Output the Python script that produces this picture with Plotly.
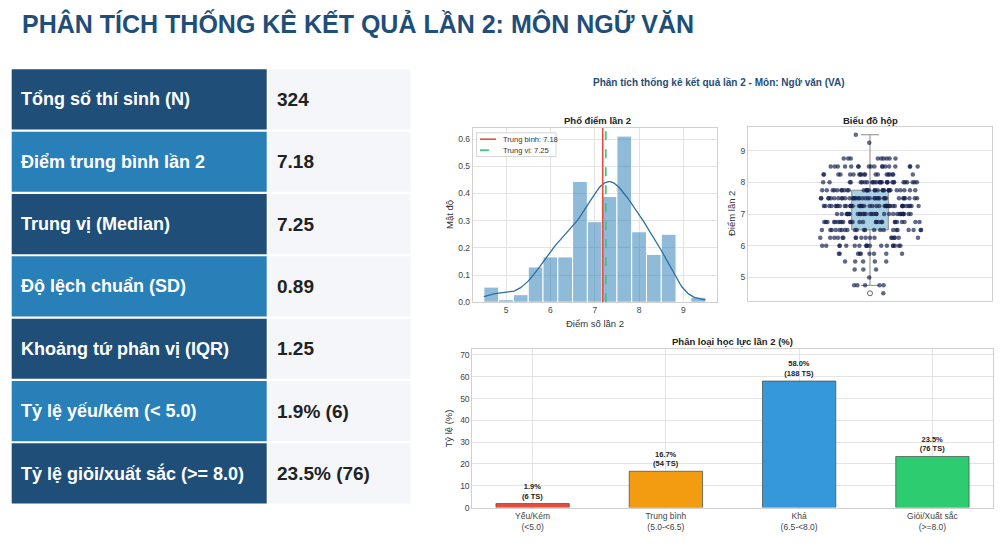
import numpy as np
import plotly.graph_objects as go

# bang thong ke ben trai
stat_labels = ["Tổng số thí sinh (N)", "Điểm trung bình lần 2", "Trung vị (Median)",
               "Độ lệch chuẩn (SD)", "Khoảng tứ phân vị (IQR)", "Tỷ lệ yếu/kém (< 5.0)",
               "Tỷ lệ giỏi/xuất sắc (>= 8.0)"]
stat_values = ["324", "7.18", "7.25", "0.89", "1.25", "1.9% (6)", "23.5% (76)"]

# diem lan 2: muc diem va so thi sinh (doc tu pho diem + bieu do hop)
score_values = [4.5, 4.75, 5.0, 5.25, 5.5, 5.75, 6.0, 6.25, 6.5, 6.75,
                7.0, 7.25, 7.5, 7.75, 8.0, 8.25, 8.5, 8.75, 9.25, 9.5]
score_counts = [1, 5, 1, 3, 5, 9, 18, 18, 22, 26,
                32, 42, 36, 30, 28, 19, 18, 9, 1, 1]

mean_score = 7.18
median_score = 7.25

# phan loai hoc luc
grade_labels = ["Yếu/Kém<br>(<5.0)", "Trung bình<br>(5.0-<6.5)",
                "Khá<br>(6.5-<8.0)", "Giỏi/Xuất sắc<br>(>=8.0)"]
grade_counts = [6, 54, 188, 76]
grade_colors = ["#e74c3c", "#f39c12", "#3498db", "#2ecc71"]

W, H = 1000, 547
FONT = "Liberation Sans, Arial, sans-serif"


def px(x):
    return x / W


def py(y):
    return 1 - y / H


scores = np.repeat(score_values, score_counts)
n = len(scores)

# histogram (density) + kde nhu seaborn
dens, edges = np.histogram(scores, bins=15, range=(4.5, 9.5), density=True)
centers = (edges[:-1] + edges[1:]) / 2
bw = n ** (-1 / 5) * scores.std(ddof=1)
grid = np.linspace(scores.min(), scores.max(), 200)
kde = np.exp(-0.5 * ((grid[:, None] - scores[None, :]) / bw) ** 2).sum(axis=1)
kde = kde / (n * bw * np.sqrt(2 * np.pi))
ytop = max(dens.max(), kde.max()) * 1.05

fig = go.Figure()

fig.add_trace(go.Bar(
    x=centers, y=dens, width=edges[1] - edges[0],
    marker=dict(color="rgba(31,119,180,0.5)", line=dict(color="white", width=1)),
    xaxis="x", yaxis="y", hoverinfo="skip"))
fig.add_trace(go.Scatter(
    x=grid, y=kde, mode="lines", line=dict(color="#2a6f9f", width=1.3),
    xaxis="x", yaxis="y"))
fig.add_trace(go.Scatter(
    x=[mean_score, mean_score], y=[0, ytop], mode="lines",
    line=dict(color="#e74c3c", width=1.6),
    name=f"Trung bình: {mean_score:.2f}", xaxis="x", yaxis="y"))
fig.add_trace(go.Scatter(
    x=[median_score, median_score], y=[0, ytop], mode="lines",
    line=dict(color="#2ecc71", width=1.6, dash="dash"),
    name=f"Trung vị: {median_score:.2f}", xaxis="x", yaxis="y"))

# bieu do hop + diem
fig.add_trace(go.Box(
    y=scores, x0=0, width=0.15, boxpoints="outliers", whiskerwidth=0.5,
    fillcolor="#a8d1e5", line=dict(color="#8a8a8a", width=1),
    marker=dict(color="white", size=5, line=dict(color="#666666", width=1)),
    xaxis="x2", yaxis="y2"))
fig.add_trace(go.Box(
    y=scores, x0=0, width=0.42, boxpoints="all", jitter=1, pointpos=0,
    fillcolor="rgba(0,0,0,0)", line=dict(color="rgba(0,0,0,0)", width=0),
    marker=dict(color="rgba(22,32,78,0.68)", size=4.5),
    xaxis="x2", yaxis="y2"))

# phan loai hoc luc
grade_pct = [c / n * 100 for c in grade_counts]
fig.add_trace(go.Bar(
    x=list(range(len(grade_counts))), y=grade_pct, width=0.55,
    marker=dict(color=grade_colors, line=dict(color="rgba(70,70,70,0.7)", width=1)),
    text=[f"<b>{p:.1f}%<br>({c} TS)</b>" for p, c in zip(grade_pct, grade_counts)],
    textposition="outside", constraintext="none", cliponaxis=False,
    textfont=dict(size=7.5, color="#222222", family=FONT),
    xaxis="x3", yaxis="y3"))

axis_style = dict(showgrid=True, gridcolor="#e3e3e3", gridwidth=1, showline=True,
                  linecolor="#d0d0d0", mirror=True, ticks="", zeroline=False,
                  tickfont=dict(size=8.5, color="#444444", family=FONT))

fig.update_layout(
    width=W, height=H, margin=dict(l=0, r=0, t=0, b=0),
    paper_bgcolor="white", plot_bgcolor="white", showlegend=False,
    font=dict(family=FONT), barmode="overlay", boxmode="overlay",
    xaxis=dict(axis_style, domain=[px(472.8), px(716.7)], range=[4.25, 9.75],
               tickvals=[5, 6, 7, 8, 9], anchor="y"),
    yaxis=dict(axis_style, domain=[py(305), py(129)], range=[0, ytop],
               dtick=0.1, tickformat=".1f", anchor="x"),
    xaxis2=dict(axis_style, domain=[px(748), px(992)], range=[-0.5, 0.5],
                showticklabels=False, showgrid=False, anchor="y2"),
    yaxis2=dict(axis_style, domain=[py(304), py(128)], range=[4.25, 9.75],
                tickvals=[5, 6, 7, 8, 9], anchor="x2"),
    xaxis3=dict(axis_style, domain=[px(472.3), px(992.7)], range=[-0.4525, 3.4525],
                tickvals=list(range(len(grade_labels))), ticktext=grade_labels,
                anchor="y3"),
    yaxis3=dict(axis_style, domain=[py(512.3), py(352.7)], range=[0, 72.5],
                dtick=10, anchor="x3"),
)

shapes = []
annotations = []

# tieu de chinh
annotations.append(dict(
    x=px(20), y=py(24), xref="paper", yref="paper", xanchor="left", yanchor="middle",
    text="<b>PHÂN TÍCH THỐNG KÊ KẾT QUẢ LẦN 2: MÔN NGỮ VĂN</b>", showarrow=False,
    font=dict(size=25, color="#1f4e79", family=FONT)))

# bang
row_top, row_pitch, row_h = 70, 62.9, 60.7
for i, (lab, val) in enumerate(zip(stat_labels, stat_values)):
    y0 = row_top + i * row_pitch
    y1 = y0 + row_h
    shapes.append(dict(type="rect", xref="paper", yref="paper",
                       x0=px(11.7), x1=px(266.7), y0=py(y1), y1=py(y0),
                       fillcolor="#1f4e79" if i % 2 == 0 else "#2980b9",
                       line=dict(width=0), layer="below"))
    shapes.append(dict(type="rect", xref="paper", yref="paper",
                       x0=px(268.5), x1=px(410.7), y0=py(y1), y1=py(y0),
                       fillcolor="#f4f6f9", line=dict(width=0), layer="below"))
    yc = py((y0 + y1) / 2)
    annotations.append(dict(
        x=px(19), y=yc, xref="paper", yref="paper", xanchor="left", yanchor="middle",
        text=f"<b>{lab}</b>", showarrow=False,
        font=dict(size=18, color="white", family=FONT)))
    annotations.append(dict(
        x=px(275), y=yc, xref="paper", yref="paper", xanchor="left", yanchor="middle",
        text=f"<b>{val}</b>", showarrow=False,
        font=dict(size=19, color="#222222", family=FONT)))

# chu giai pho diem (ve tay cho gon nhu matplotlib)
shapes.append(dict(type="rect", xref="paper", yref="paper",
                   x0=px(476.5), x1=px(556), y0=py(158), y1=py(134),
                   fillcolor="rgba(255,255,255,0.85)", line=dict(color="#d5d5d5", width=1)))
legend_items = [(140.5, "#e74c3c", "solid", f"Trung bình: {mean_score:.2f}"),
                (151.5, "#2ecc71", "dash", f"Trung vị: {median_score:.2f}")]
for ly, lc, ld, lt in legend_items:
    shapes.append(dict(type="line", xref="paper", yref="paper",
                       x0=px(480), x1=px(496), y0=py(ly), y1=py(ly),
                       line=dict(color=lc, width=1.6, dash=ld)))
    annotations.append(dict(
        x=px(501), y=py(ly), xref="paper", yref="paper", xanchor="left", yanchor="middle",
        text=lt, showarrow=False, font=dict(size=7.5, color="#333333", family=FONT)))

# tieu de bieu do + nhan truc
text_specs = [
    (719, 83, "<b>Phân tích thống kê kết quả lần 2 - Môn: Ngữ văn (VA)</b>", 10, "#1f4e79", 0),
    (597, 121.5, "<b>Phổ điểm lần 2</b>", 9.5, "#222222", 0),
    (870, 121.5, "<b>Biểu đồ hộp</b>", 9.5, "#222222", 0),
    (732.5, 345, "<b>Phân loại học lực lần 2 (%)</b>", 9.5, "#222222", 0),
    (594.7, 326.5, "Điểm số lần 2", 9.5, "#333333", 0),
    (449, 217, "Mật độ", 9.5, "#333333", -90),
    (731, 216, "Điểm lần 2", 9.5, "#333333", -90),
    (449, 432.5, "Tỷ lệ (%)", 9.5, "#333333", -90),
]
for x, y, t, s, c, rot in text_specs:
    annotations.append(dict(
        x=px(x), y=py(y), xref="paper", yref="paper", xanchor="center", yanchor="middle",
        text=t, showarrow=False, textangle=rot, font=dict(size=s, color=c, family=FONT)))

fig.update_layout(shapes=shapes, annotations=annotations)

fig.write_html("out.html", config={"displayModeBar": False},
               post_script="document.body.style.margin='0';")
